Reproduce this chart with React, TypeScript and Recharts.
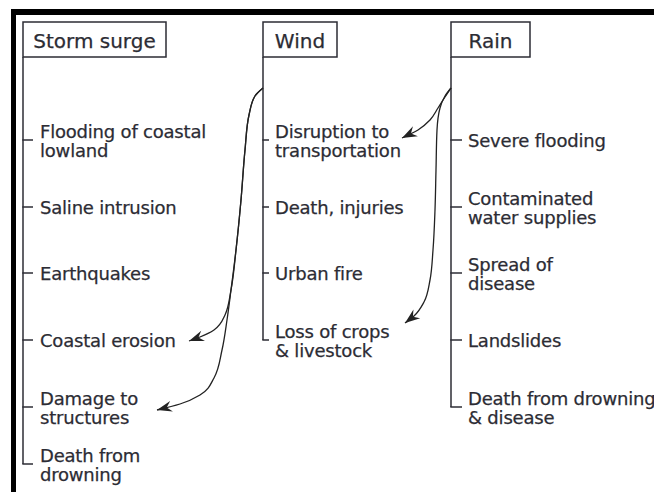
import { ComposedChart, XAxis, YAxis, ReferenceArea, ReferenceLine, Line, Scatter } from "recharts";

// hazards and their effects (one column per hazard)
const hazards = ["Storm surge", "Wind", "Rain"];

const stormSurgeEffects = [
  "Flooding of coastal\nlowland",
  "Saline intrusion",
  "Earthquakes",
  "Coastal erosion",
  "Damage to\nstructures",
  "Death from\ndrowning",
];

const windEffects = [
  "Disruption to\ntransportation",
  "Death, injuries",
  "Urban fire",
  "Loss of crops\n& livestock",
];

const rainEffects = [
  "Severe flooding",
  "Contaminated\nwater supplies",
  "Spread of\ndisease",
  "Landslides",
  "Death from drowning\n& disease",
];

// curved links
const windToErosion = [
  { x: 263, y: 88 }, { x: 255, y: 96 }, { x: 249, y: 115 }, { x: 245, y: 150 },
  { x: 241, y: 200 }, { x: 236, y: 250 }, { x: 231, y: 290 }, { x: 225, y: 315 },
  { x: 214, y: 330 }, { x: 200, y: 337 }, { x: 189, y: 341 },
];
const windToStructures = [
  { x: 263, y: 88 }, { x: 255, y: 96 }, { x: 249, y: 115 }, { x: 245, y: 150 },
  { x: 241, y: 200 }, { x: 236, y: 250 }, { x: 231, y: 290 }, { x: 227, y: 320 },
  { x: 222, y: 350 }, { x: 214, y: 378 }, { x: 200, y: 395 }, { x: 180, y: 404 },
  { x: 157, y: 410 },
];
const rainToTransport = [
  { x: 451, y: 88 }, { x: 445, y: 97 }, { x: 438, y: 108 }, { x: 430, y: 120 },
  { x: 418, y: 130 }, { x: 402, y: 138 },
];
const rainToCrops = [
  { x: 451, y: 88 }, { x: 445, y: 96 }, { x: 440, y: 108 }, { x: 437, y: 130 },
  { x: 436, y: 170 }, { x: 435, y: 210 }, { x: 433, y: 250 }, { x: 430, y: 280 },
  { x: 424, y: 302 }, { x: 414, y: 316 }, { x: 405, y: 323 },
];

// layout
const W = 654;
const H = 492;
const colX = [23, 263, 451];
const boxRight = [166, 337, 530];
const boxTop = 22;
const boxBottom = 57;
const rowY = [140, 207, 273, 340, 407, 464];
const tickLen = [10, 6, 11];
const textDx = [17, 12, 17];
const LINE_H = 19;
const INK = "#2c2c34";
const FONT = "DejaVu Sans";

const effects = [stormSurgeEffects, windEffects, rainEffects];
const arrows = [windToErosion, windToStructures, rainToTransport, rainToCrops];

const titleData = hazards.map((label, c) => ({ x: (colX[c] + boxRight[c]) / 2, y: (boxTop + boxBottom) / 2 + 1, label }));
const labelData = effects.flatMap((col, c) =>
  col.map((label, r) => ({ x: colX[c] + textDx[c], y: rowY[r], label }))
);

const TitleText = (props: any) => {
  const { cx, cy, payload } = props;
  return (
    <text x={cx} y={cy} textAnchor="middle" dominantBaseline="central" fontSize={20} fontFamily={FONT} fill={INK} stroke={INK} strokeWidth={0.25}>
      {payload.label}
    </text>
  );
};

const EffectText = (props: any) => {
  const { cx, cy, payload } = props;
  const lines: string[] = payload.label.split("\n");
  const top = cy - ((lines.length - 1) * LINE_H) / 2;
  return (
    <text x={cx} y={top} dominantBaseline="central" fontSize={18} letterSpacing={-0.2} fontFamily={FONT} fill={INK} stroke={INK} strokeWidth={0.25}>
      {lines.map((l, i) => (
        <tspan key={i} x={cx} y={top + i * LINE_H}>{l}</tspan>
      ))}
    </text>
  );
};

const arrowHead = (pts: { x: number; y: number }[]) => (props: any) => {
  const { cx, cy, index } = props;
  if (index !== pts.length - 1) return <g key={`d-${index}`} />;
  const a = pts[pts.length - 2];
  const b = pts[pts.length - 1];
  const ang = (Math.atan2(b.y - a.y, b.x - a.x) * 180) / Math.PI;
  return (
    <path
      key={`d-${index}`}
      d="M0,0 L-15,-5.5 L-10,0 L-15,5.5 Z"
      transform={`translate(${cx},${cy}) rotate(${ang})`}
      fill="#222"
      stroke="none"
    />
  );
};

export default function App() {
  return (
    <div style={{ position: "absolute", left: 0, top: 0, width: W, height: H, background: "#fff" }}>
      <ComposedChart width={W} height={H} margin={{ top: 0, right: 0, bottom: 0, left: 0 }}>
        <XAxis type="number" dataKey="x" domain={[0, W]} hide allowDataOverflow />
        <YAxis type="number" dataKey="y" domain={[0, H]} reversed hide allowDataOverflow />

        {/* black frame */}
        <ReferenceArea x1={11} x2={16} y1={9} y2={H} fill="#000" fillOpacity={1} stroke="none" ifOverflow="visible" />
        <ReferenceArea x1={11} x2={W} y1={9} y2={15} fill="#000" fillOpacity={1} stroke="none" ifOverflow="visible" />

        {hazards.map((h, c) => (
          <ReferenceArea
            key={h}
            x1={colX[c]}
            x2={boxRight[c]}
            y1={boxTop}
            y2={boxBottom}
            fill="#fff"
            fillOpacity={1}
            stroke={INK}
            strokeWidth={1.5}
            ifOverflow="visible"
          />
        ))}

        {effects.map((col, c) => (
          <ReferenceLine
            key={`stem-${c}`}
            segment={[{ x: colX[c], y: boxBottom }, { x: colX[c], y: rowY[col.length - 1] }]}
            stroke={INK}
            strokeWidth={1.5}
            ifOverflow="visible"
          />
        ))}
        {effects.flatMap((col, c) =>
          col.map((_, r) => (
            <ReferenceLine
              key={`tick-${c}-${r}`}
              segment={[{ x: colX[c] - 0.7, y: rowY[r] }, { x: colX[c] + tickLen[c], y: rowY[r] }]}
              stroke={INK}
              strokeWidth={1.5}
              ifOverflow="visible"
            />
          ))
        )}

        {arrows.map((pts, i) => (
          <Line
            key={`arrow-${i}`}
            data={pts}
            dataKey="y"
            type="monotoneY"
            stroke="#222"
            strokeWidth={1.3}
            dot={arrowHead(pts)}
            activeDot={false}
            isAnimationActive={false}
          />
        ))}

        <Scatter data={titleData} dataKey="y" shape={TitleText} isAnimationActive={false} />
        <Scatter data={labelData} dataKey="y" shape={EffectText} isAnimationActive={false} />
      </ComposedChart>
    </div>
  );
}
